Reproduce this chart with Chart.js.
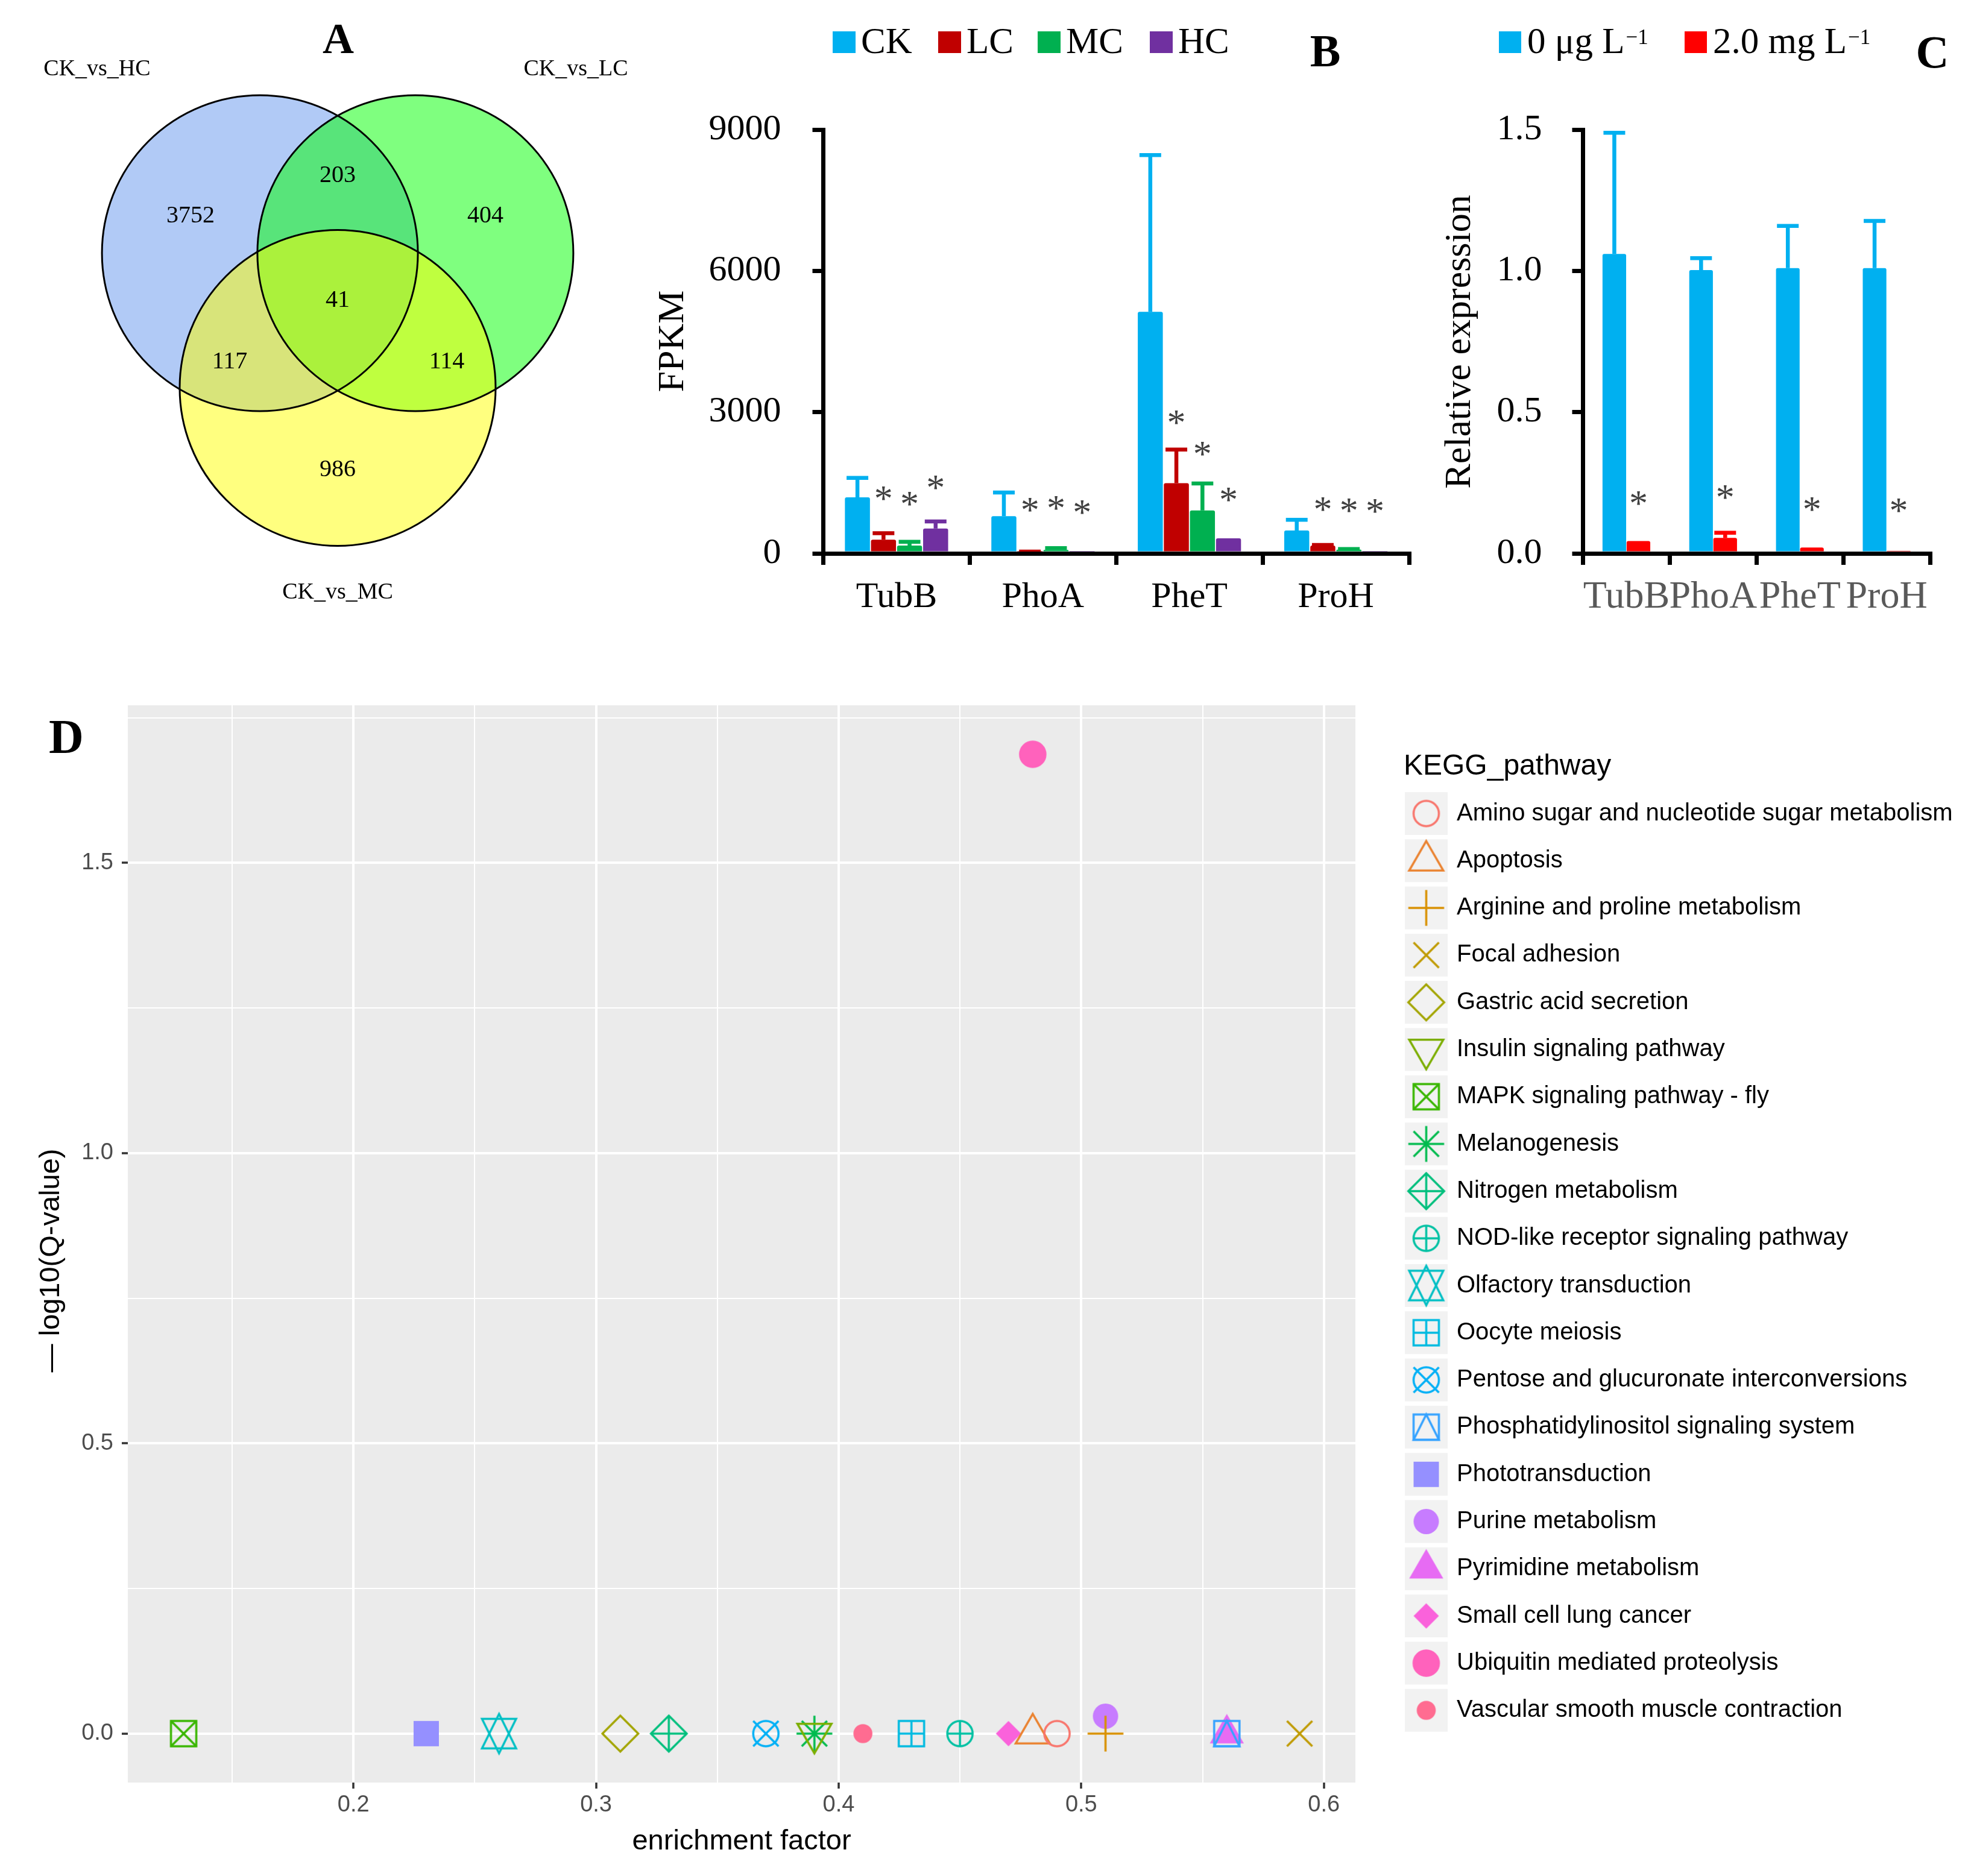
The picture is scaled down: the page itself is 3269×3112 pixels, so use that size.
<!DOCTYPE html>
<html>
<head>
<meta charset="utf-8">
<script src="https://cdn.jsdelivr.net/npm/chart.js@4.4.0/dist/chart.umd.min.js"></script>
<style>
  html, body { margin: 0; padding: 0; background: #fff; }
  #page { position: relative; width: 3269px; height: 3112px; background: #fff; overflow: hidden; }
  canvas { position: absolute; }
</style>
</head>
<body>
<div id="page">
  <canvas id="venn" width="1100" height="1100" style="left:0;top:0"></canvas>
  <canvas id="fpkm" width="1350" height="1060" style="left:1050px;top:0"></canvas>
  <canvas id="qpcr" width="919" height="1060" style="left:2350px;top:0"></canvas>
  <canvas id="kegg" width="3269" height="1982" style="left:0;top:1130px"></canvas>
</div>
<script>
// ---- A: Venn ----
var vennSets = ['CK_vs_HC', 'CK_vs_LC', 'CK_vs_MC'];
var vennX = [-0.492, 0.492, 0];
var vennY = [0, 0, -0.853];
var vennCounts = [3752, 203, 404, 41, 117, 114, 986];
// where each count sits, in circle-radius units
var countX = [-0.931, 0, 0.935, 0, -0.683, 0.691, 0];
var countY = [0.244, 0.5, 0.244, -0.29, -0.679, -0.679, -1.363];
var setLabelX = [-1.523, 1.508, 0];
var setLabelY = [1.164, 1.164, -2.149];

// ---- B: FPKM ----
var genes = ['TubB', 'PhoA', 'PheT', 'ProH'];
var groupsB = ['CK', 'LC', 'MC', 'HC'];
var fpkmCK = [1191, 792, 5130, 486];
var fpkmLC = [291, 35, 1490, 167];
var fpkmMC = [167, 73, 912, 81];
var fpkmHC = [527, 10, 321, 38];
var errCK = [1602, 1293, 8460, 715];
var errLC = [428, 40, 2205, 180];
var errMC = [248, 113, 1486, 92];
var errHC = [677, 10, 321, 38];
var starLC = [1272, 1028, 2890, 1044];
var starMC = [1156, 1066, 2222, 1018];
var starHC = [1503, 976, 1246, 1002];
var fpkmTicks = [0, 3000, 6000, 9000];

// ---- C: qPCR ----
var groupsC = ['0 μg L', '2.0 mg L'];
var relCtrl = [1.060, 1.003, 1.010, 1.010];
var relCtrlErr = [1.489, 1.045, 1.159, 1.177];
var relTreat = [0.044, 0.055, 0.021, 0.009];
var relTreatErr = [0.044, 0.073, 0.021, 0.009];
var starTreat = [0.195, 0.217, 0.174, 0.170];
var relTicks = [0, 0.5, 1.0, 1.5];

// ---- D: KEGG enrichment ----
var pathways = ['Amino sugar and nucleotide sugar metabolism', 'Apoptosis', 'Arginine and proline metabolism',
  'Focal adhesion', 'Gastric acid secretion', 'Insulin signaling pathway', 'MAPK signaling pathway - fly',
  'Melanogenesis', 'Nitrogen metabolism', 'NOD-like receptor signaling pathway', 'Olfactory transduction',
  'Oocyte meiosis', 'Pentose and glucuronate interconversions', 'Phosphatidylinositol signaling system',
  'Phototransduction', 'Purine metabolism', 'Pyrimidine metabolism', 'Small cell lung cancer',
  'Ubiquitin mediated proteolysis', 'Vascular smooth muscle contraction'];
var enrichment = [0.49, 0.48, 0.51, 0.59, 0.31, 0.39, 0.13, 0.39, 0.33, 0.45, 0.26, 0.43, 0.37, 0.56, 0.23, 0.51, 0.56, 0.47, 0.48, 0.41];
var negLogQ = [0, 0, 0, 0, 0, 0, 0, 0, 0, 0, 0, 0, 0, 0, 0, 0.03, 0, 0, 1.687, 0];
var shapeCodes = [1, 2, 3, 4, 5, 6, 7, 8, 9, 10, 11, 12, 13, 14, 15, 16, 17, 18, 19, 20];
var xTicksD = [0.15, 0.2, 0.25, 0.3, 0.35, 0.4, 0.45, 0.5, 0.55, 0.6];
var yTicksD = [0, 0.25, 0.5, 0.75, 1.0, 1.25, 1.5, 1.75];

var hue20 = ['#F8766D', '#EA8331', '#D89000', '#C09B00', '#A3A500', '#7CAE00', '#39B600', '#00BB4E', '#00BF7D', '#00C1A3',
  '#00BFC4', '#00BAE0', '#00B0F6', '#35A2FF', '#9590FF', '#C77CFF', '#E76BF3', '#FA62DB', '#FF62BC', '#FF6C91'];

var serif = "'Liberation Serif'";
var sans = "'Liberation Sans'";

// draw text centred on its ink, not on the em box
function glyphText(ctx, str, x, y, font, color) {
  ctx.save();
  ctx.font = font;
  ctx.fillStyle = color;
  ctx.textAlign = 'center';
  ctx.textBaseline = 'alphabetic';
  var m = ctx.measureText(str);
  ctx.fillText(str, x, y + (m.actualBoundingBoxAscent - m.actualBoundingBoxDescent) / 2);
  ctx.restore();
}

function upText(ctx, str, x, y, font, color) {
  ctx.save();
  ctx.translate(x, y);
  ctx.rotate(-Math.PI / 2);
  ctx.font = font;
  ctx.fillStyle = color;
  ctx.textAlign = 'center';
  ctx.textBaseline = 'middle';
  ctx.fillText(str, 0, 0);
  ctx.restore();
}

var base = { animation: false, responsive: false, devicePixelRatio: 1, events: [],
  plugins: { legend: { display: false }, tooltip: { enabled: false } } };
function opts(o) { return Object.assign({}, base, o); }

// ================= A =================
var vennUnit = 262;
var unitRadius = function (c) {
  var s = c.chart.scales.x;
  return s.getPixelForValue(1) - s.getPixelForValue(0);
};
var vennPts = vennX.map(function (x, i) { return { x: x, y: vennY[i] }; });

var vennText = {
  id: 'vennText',
  afterDatasetsDraw: function (chart) {
    var ctx = chart.ctx, sx = chart.scales.x, sy = chart.scales.y;
    vennCounts.forEach(function (n, i) {
      glyphText(ctx, String(n), sx.getPixelForValue(countX[i]), sy.getPixelForValue(countY[i]), '40px ' + serif, '#000');
    });
    vennSets.forEach(function (s, i) {
      glyphText(ctx, s, sx.getPixelForValue(setLabelX[i]), sy.getPixelForValue(setLabelY[i]), '38px ' + serif, '#000');
    });
    glyphText(ctx, 'A', 561, 64, 'bold 72px ' + serif, '#000');
  }
};

new Chart(document.getElementById('venn'), {
  type: 'scatter',
  data: {
    datasets: [
      { data: vennPts, pointBackgroundColor: ['rgba(100,149,237,0.5)', 'rgba(0,255,0,0.5)', 'rgba(255,255,0,0.5)'],
        pointBorderWidth: 0, pointRadius: unitRadius, clip: false, order: 2 },
      { data: vennPts, pointBackgroundColor: 'rgba(0,0,0,0)', pointBorderColor: '#000',
        pointBorderWidth: 3, pointRadius: unitRadius, clip: false, order: 1 }
    ]
  },
  options: opts({
    layout: { padding: 0 },
    scales: {
      x: { type: 'linear', display: false, min: -560 / vennUnit, max: 540 / vennUnit },
      y: { type: 'linear', display: false, min: -680 / vennUnit, max: 420 / vennUnit }
    }
  }),
  plugins: [vennText]
});

// ================= B & C =================
var errorBars = {
  id: 'errorBars',
  afterDatasetsDraw: function (chart) {
    var ctx = chart.ctx, ys = chart.scales.y;
    chart.data.datasets.forEach(function (ds, di) {
      var meta = chart.getDatasetMeta(di);
      meta.data.forEach(function (bar, i) {
        var top = ds.errorTop[i];
        if (top > ds.data[i]) {
          var py = ys.getPixelForValue(top);
          ctx.save();
          ctx.strokeStyle = ds.backgroundColor;
          ctx.lineWidth = 6.5;
          ctx.beginPath();
          ctx.moveTo(bar.x, bar.y);
          ctx.lineTo(bar.x, py);
          ctx.moveTo(bar.x - 18, py);
          ctx.lineTo(bar.x + 18, py);
          ctx.stroke();
          ctx.restore();
        }
        if (ds.stars) glyphText(ctx, '*', bar.x, ys.getPixelForValue(ds.stars[i]), '62px ' + serif, '#404040');
      });
    });
  }
};

function barChart(id, labels, datasets, o, deco) {
  return new Chart(document.getElementById(id), {
    type: 'bar',
    data: { labels: labels, datasets: datasets },
    options: opts({
      layout: { padding: { top: o.top, right: o.right, left: 0, bottom: 0 } },
      scales: {
        x: {
          grid: { drawOnChartArea: false, offset: true, tickLength: 19, lineWidth: 7, color: '#000' },
          border: { width: 7, color: '#000', z: 1 },
          ticks: { autoSkip: false, maxRotation: 0, minRotation: 0, padding: o.xPad, color: o.xColor,
            font: { family: serif, size: o.xSize } },
          afterFit: function (s) { s.height = o.xHeight; }
        },
        y: {
          min: 0, max: o.ticks[o.ticks.length - 1],
          afterBuildTicks: function (s) { s.ticks = o.ticks.map(function (v) { return { value: v }; }); },
          grid: { drawOnChartArea: false, tickLength: 18, lineWidth: 7, color: '#000' },
          border: { width: 7, color: '#000', z: 1 },
          ticks: { padding: o.yPad, color: '#000', font: { family: serif, size: 60 }, callback: o.fmt },
          afterFit: function (s) { s.width = o.yWidth; }
        }
      }
    }),
    plugins: [errorBars, deco]
  });
}

var colorsB = ['#00B0F0', '#C00000', '#00B050', '#7030A0'];
var legendBX = [331, 506, 671, 857];
var decoB = {
  id: 'decoB',
  afterDraw: function (chart) {
    var ctx = chart.ctx;
    ctx.save();
    chart.data.datasets.forEach(function (ds, i) {
      ctx.fillStyle = ds.backgroundColor;
      ctx.fillRect(legendBX[i], 52, 38, 36);
      ctx.fillStyle = '#000';
      ctx.font = '61px ' + serif;
      ctx.textAlign = 'left';
      ctx.textBaseline = 'alphabetic';
      ctx.fillText(ds.label, legendBX[i] + 47, 88);
    });
    ctx.restore();
    upText(ctx, 'FPKM', 67, 566, '62px ' + serif, '#000');
    glyphText(ctx, 'B', 1148, 85, 'bold 76px ' + serif, '#000');
  }
};

var seriesB = [fpkmCK, fpkmLC, fpkmMC, fpkmHC];
var errB = [errCK, errLC, errMC, errHC];
var starsB = [null, starLC, starMC, starHC];
barChart('fpkm', genes, groupsB.map(function (g, i) {
  return { label: g, data: seriesB[i], errorTop: errB[i], stars: starsB[i], backgroundColor: colorsB[i],
    categoryPercentage: 0.712, barPercentage: 0.96, borderRadius: 3 };
}), { top: 215, right: 63, yWidth: 315.5, xHeight: 142, yPad: 52, xPad: 18, xColor: '#000', xSize: 60,
  ticks: fpkmTicks, fmt: function (v) { return String(v); } }, decoB);

var colorsC = ['#00B0F0', '#FF0000'];
var legendCX = [136, 444];
var decoC = {
  id: 'decoC',
  afterDraw: function (chart) {
    var ctx = chart.ctx;
    ctx.save();
    chart.data.datasets.forEach(function (ds, i) {
      ctx.fillStyle = ds.backgroundColor;
      ctx.fillRect(legendCX[i], 52, 37, 36);
      ctx.fillStyle = '#000';
      ctx.textAlign = 'left';
      ctx.textBaseline = 'alphabetic';
      ctx.font = '61px ' + serif;
      var tx = legendCX[i] + 47;
      ctx.fillText(ds.label, tx, 88);
      var w = ctx.measureText(ds.label).width;
      ctx.font = '35px ' + serif;
      ctx.fillText('\u22121', tx + w + 2, 73);
    });
    ctx.restore();
    upText(ctx, 'Relative expression', 72, 567, '62px ' + serif, '#000');
    glyphText(ctx, 'C', 855, 87, 'bold 76px ' + serif, '#000');
  }
};

barChart('qpcr', genes, [
  { label: groupsC[0], data: relCtrl, errorTop: relCtrlErr, stars: null, backgroundColor: colorsC[0],
    categoryPercentage: 0.556, barPercentage: 0.98, borderRadius: 3 },
  { label: groupsC[1], data: relTreat, errorTop: relTreatErr, stars: starTreat, backgroundColor: colorsC[1],
    categoryPercentage: 0.556, barPercentage: 0.98, borderRadius: 3 }
], { top: 215, right: 68, yWidth: 275.5, xHeight: 142, yPad: 50, xPad: 16, xColor: '#595959', xSize: 64,
  ticks: relTicks, fmt: function (v) { return v.toFixed(1); } }, decoC);

// ================= D =================
function shapeCanvas(code, color) {
  var c = document.createElement('canvas');
  c.width = 80; c.height = 80;
  var g = c.getContext('2d');
  var r = 21, q = r * Math.SQRT2;
  var tr = 1.5551 * r, ty = 0.7776 * r, tx = 1.3468 * r;
  g.translate(40, 40);
  g.strokeStyle = color; g.fillStyle = color; g.lineWidth = 3.5;
  function poly(pts, fill) {
    g.beginPath();
    pts.forEach(function (p, i) { if (i) g.lineTo(p[0], p[1]); else g.moveTo(p[0], p[1]); });
    g.closePath();
    if (fill) g.fill(); else g.stroke();
  }
  function seg(x1, y1, x2, y2) { g.beginPath(); g.moveTo(x1, y1); g.lineTo(x2, y2); g.stroke(); }
  function ring(rad, fill) { g.beginPath(); g.arc(0, 0, rad, 0, Math.PI * 2); if (fill) g.fill(); else g.stroke(); }
  var up = [[0, -tr], [tx, ty], [-tx, ty]], down = [[0, tr], [tx, -ty], [-tx, -ty]];
  var sq = [[-r, -r], [r, -r], [r, r], [-r, r]], dia = [[0, -q], [q, 0], [0, q], [-q, 0]];
  switch (code) {
    case 1: ring(r); break;
    case 2: poly(up); break;
    case 3: seg(-q, 0, q, 0); seg(0, -q, 0, q); break;
    case 4: seg(-r, -r, r, r); seg(-r, r, r, -r); break;
    case 5: poly(dia); break;
    case 6: poly(down); break;
    case 7: poly(sq); seg(-r, -r, r, r); seg(-r, r, r, -r); break;
    case 8: seg(-q, 0, q, 0); seg(0, -q, 0, q); seg(-r, -r, r, r); seg(-r, r, r, -r); break;
    case 9: poly(dia); seg(-q, 0, q, 0); seg(0, -q, 0, q); break;
    case 10: ring(r); seg(-r, 0, r, 0); seg(0, -r, 0, r); break;
    case 11:
      var yc = 0.5 * (ty + tr);
      poly([[0, -tr], [tx, yc], [-tx, yc]]);
      poly([[0, tr], [tx, -yc], [-tx, -yc]]);
      break;
    case 12: poly(sq); seg(-r, 0, r, 0); seg(0, -r, 0, r); break;
    case 13: ring(r); seg(-r, -r, r, r); seg(-r, r, r, -r); break;
    case 14: poly(sq); poly([[0, -r], [r, r], [-r, r]]); break;
    case 15: poly(sq, true); break;
    case 16: ring(r, true); break;
    case 17: poly(up, true); break;
    case 18: poly([[0, -r], [r, 0], [0, r], [-r, 0]], true); break;
    case 19: ring(r, true); ring(r); break;
    case 20: ring(r * 2 / 3, true); ring(r * 2 / 3); break;
  }
  return c;
}
var shapeImgs = shapeCodes.map(function (s, i) { return shapeCanvas(s, hue20[i]); });

function isStep(v, step) { return Math.abs(v / step - Math.round(v / step)) < 1e-6; }

// ggplot pads the data range by 5% on each side
var xLo = Math.min.apply(null, enrichment), xHi = Math.max.apply(null, enrichment);
var yLo = Math.min.apply(null, negLogQ), yHi = Math.max.apply(null, negLogQ);
var xPadD = (xHi - xLo) * 0.05, yPadD = (yHi - yLo) * 0.05;

var keggDeco = {
  id: 'keggDeco',
  beforeDraw: function (chart) {
    var a = chart.chartArea, ctx = chart.ctx;
    ctx.save();
    ctx.fillStyle = '#EBEBEB';
    ctx.fillRect(a.left, a.top, a.right - a.left, a.bottom - a.top);
    ctx.restore();
  },
  afterDraw: function (chart) {
    var ctx = chart.ctx;
    ctx.save();
    ctx.textAlign = 'left';
    ctx.textBaseline = 'alphabetic';
    ctx.fillStyle = '#000';
    ctx.font = '48px ' + sans;
    ctx.fillText('KEGG_pathway', 2328, 155);
    pathways.forEach(function (name, i) {
      var cy = 219.5 + i * 78.3;
      ctx.fillStyle = '#F2F2F2';
      ctx.fillRect(2330, cy - 35.5, 71, 71);
      var img = shapeImgs[i];
      ctx.drawImage(img, 2365.5 - img.width / 2, cy - img.height / 2);
      ctx.fillStyle = '#000';
      ctx.font = '40px ' + sans;
      ctx.textBaseline = 'middle';
      ctx.fillText(name, 2416, cy);
    });
    ctx.restore();
    ctx.save();
    ctx.font = '47px ' + sans;
    ctx.fillStyle = '#000';
    ctx.textAlign = 'center';
    ctx.fillText('enrichment factor', 1230, 1938);
    ctx.restore();
    upText(ctx, '\u2014 log10(Q-value)', 85, 961, '47px ' + sans, '#000');
    glyphText(ctx, 'D', 110, 92, 'bold 80px ' + serif, '#000');
  }
};

new Chart(document.getElementById('kegg'), {
  type: 'scatter',
  data: {
    datasets: pathways.map(function (name, i) {
      return { label: name, data: [{ x: enrichment[i], y: negLogQ[i] }], pointStyle: shapeImgs[i],
        pointRadius: 3, pointHoverRadius: 3 };
    })
  },
  options: opts({
    layout: { padding: { top: 40, right: 1021, left: 0, bottom: 0 } },
    scales: {
      x: {
        type: 'linear', min: xLo - xPadD, max: xHi + xPadD,
        afterBuildTicks: function (s) { s.ticks = xTicksD.map(function (v) { return { value: v }; }); },
        grid: { color: '#FFFFFF', tickLength: 10, tickWidth: 3.5,
          lineWidth: function (c) { return isStep(c.tick.value, 0.1) ? 4 : 2; },
          tickColor: function (c) { return isStep(c.tick.value, 0.1) ? '#333333' : 'rgba(0,0,0,0)'; } },
        border: { display: false },
        ticks: { autoSkip: false, maxRotation: 0, minRotation: 0, padding: 5, color: '#4D4D4D',
          font: { family: sans, size: 38 },
          callback: function (v) { return isStep(v, 0.1) ? v.toFixed(1) : ''; } },
        afterFit: function (s) { s.height = 155; }
      },
      y: {
        type: 'linear', min: yLo - yPadD, max: yHi + yPadD,
        afterBuildTicks: function (s) { s.ticks = yTicksD.map(function (v) { return { value: v }; }); },
        grid: { color: '#FFFFFF', tickLength: 10, tickWidth: 3.5,
          lineWidth: function (c) { return isStep(c.tick.value, 0.5) ? 4 : 2; },
          tickColor: function (c) { return isStep(c.tick.value, 0.5) ? '#333333' : 'rgba(0,0,0,0)'; } },
        border: { display: false },
        ticks: { autoSkip: false, padding: 14, color: '#4D4D4D', font: { family: sans, size: 38 },
          callback: function (v) { return isStep(v, 0.5) ? v.toFixed(1) : ''; } },
        afterFit: function (s) { s.width = 212; }
      }
    }
  }),
  plugins: [keggDeco]
});
</script>
</body>
</html>
